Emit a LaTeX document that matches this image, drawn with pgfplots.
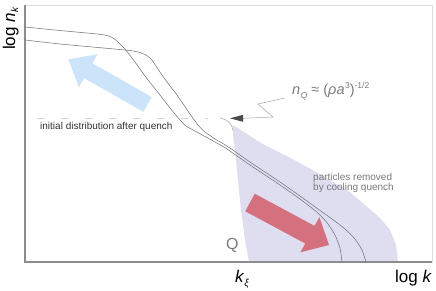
\documentclass[border=0pt]{standalone}
\usepackage{pgfplots}
\pgfplotsset{compat=1.18}
\usepackage{fontspec}
\setmainfont{Liberation Sans}
\definecolor{shade}{HTML}{DEDEF0}
\definecolor{bluearr}{HTML}{CBE4FA}
\definecolor{redarr}{HTML}{D5707E}
\definecolor{curve}{HTML}{75757E}
\definecolor{annot}{HTML}{7A7A7A}
\begin{document}
\begin{tikzpicture}[x=1pt,y=1pt]
\useasboundingbox (0,0) rectangle (436,290);
\begin{axis}[
  at={(25pt,28pt)}, anchor=south west,
  width=407pt, height=257pt, scale only axis,
  xmin=25, xmax=432, ymin=5, ymax=262, y dir=reverse,
  axis lines=none, ticks=none, clip=false,
]
% shaded region: particles removed
\addplot[fill=shade, draw=none] coordinates {
 (233,125) (261,143) (300,163) (330,180) (350,192) (365,205) (380,218)
 (390,230) (396,245) (398,262) (249,262) (245,240) (241,210) (238,180)
 (235,150) (233,135) (233,125)};
% blue arrow
\addplot[fill=bluearr, draw=none] coordinates {
 (151.7,97.1) (92.5,63.3) (97.7,54.2) (68.3,59.3) (78.9,87.2) (84.1,78.1) (143.3,111.9) (151.7,97.1)};
% red arrow
\addplot[fill=redarr, draw=none] coordinates {
 (254.7,193.7) (314.6,225.9) (319.4,217.1) (329,245) (300.4,252.3) (305.2,243.5) (245.3,211.3) (254.7,193.7)};
% frame
\draw[black!13, line width=0.8pt] (axis cs:25,5) -- (axis cs:432,5) -- (axis cs:432,262);
\draw[black!45, line width=1.2pt] (axis cs:25,5) -- (axis cs:25,262) -- (axis cs:432,262);
% curve A
\addplot[curve, line width=0.55pt, smooth, tension=0.35] coordinates {
 (25,27) (60,30.5) (100,34.3) (108,35.8) (113,38) (118,42) (125,49) (135,62)
 (145,76) (160,95) (170,108) (180,120) (186,126) (195,131) (205,136.5)
 (215,142) (227,149) (250,165) (280,185) (300,199) (318,213) (328,224)
 (335,235) (340,248) (342,262)};
% curve B
\addplot[curve, line width=0.55pt, smooth, tension=0.35] coordinates {
 (25,40) (60,44) (100,47.7) (130,50.5) (140,52.5) (146,55) (151,59) (156,66)
 (162,75) (170,86) (177,95) (190,114) (198,125) (205,132) (215,139)
 (227,146) (250,162) (280,182) (300,196) (318,209) (332,219) (345,229)
 (355,239) (362,250) (366,262)};
% dashed line
\draw[black!18, line width=0.6pt, dash pattern=on 7pt off 17pt] (axis cs:37,118) -- (axis cs:208,118);
\node[anchor=base west, font=\fontsize{10}{11}\selectfont, text=black!80, inner sep=0pt] at (axis cs:40,129.5) {initial distribution after quench};
% hook
\draw[black!30, line width=0.6pt] (axis cs:220,118) .. controls (axis cs:228,120) and (axis cs:232,123) .. (axis cs:233,131);
% zigzag annotation
\draw[black!35, line width=0.5pt] (axis cs:285,98) -- (axis cs:258,104) -- (axis cs:273,117) -- (axis cs:243,118.3);
\addplot[fill=black!70, draw=none] coordinates {(243,114.8) (230,118.3) (243,121.8) (243,114.8)};
\node[anchor=base west, text=annot, font=\fontsize{14.5}{16}\selectfont, inner sep=0pt] at (axis cs:292,94)
 {\textit{n}\kern0.5pt\raisebox{-4pt}{\fontsize{8.5}{9}\selectfont\textit{Q}} ≈ (\textit{ρa}\kern0.5pt\raisebox{5.5pt}{\fontsize{8.5}{9}\selectfont 3})\raisebox{5.5pt}{\fontsize{8.5}{9}\selectfont -1/2}};
% text in shading
\node[anchor=base west, text=annot, font=\fontsize{10}{11}\selectfont, inner sep=0pt] at (axis cs:313,180) {particles removed};
\node[anchor=base west, text=annot, font=\fontsize{10}{11}\selectfont, inner sep=0pt] at (axis cs:313,190.5) {by cooling quench};
\node[anchor=base west, text=annot, font=\fontsize{16}{18}\selectfont, inner sep=0pt] at (axis cs:226,249) {Q};
% axis labels
\node[anchor=base east, font=\fontsize{17}{19}\selectfont, inner sep=0pt] at (axis cs:432,282) {log \textit{k}};
\node[anchor=base west, font=\fontsize{17}{19}\selectfont, inner sep=0pt] at (axis cs:235,282) {\textit{k}\raisebox{-4pt}{\fontsize{10}{11}\selectfont\textit{ξ}}};
\node[anchor=base west, rotate=90, font=\fontsize{17}{19}\selectfont, inner sep=0pt] at (axis cs:15,50) {log \textit{n}\raisebox{-3pt}{\fontsize{10}{11}\selectfont\textit{k}}};
\end{axis}
\end{tikzpicture}
\end{document}
